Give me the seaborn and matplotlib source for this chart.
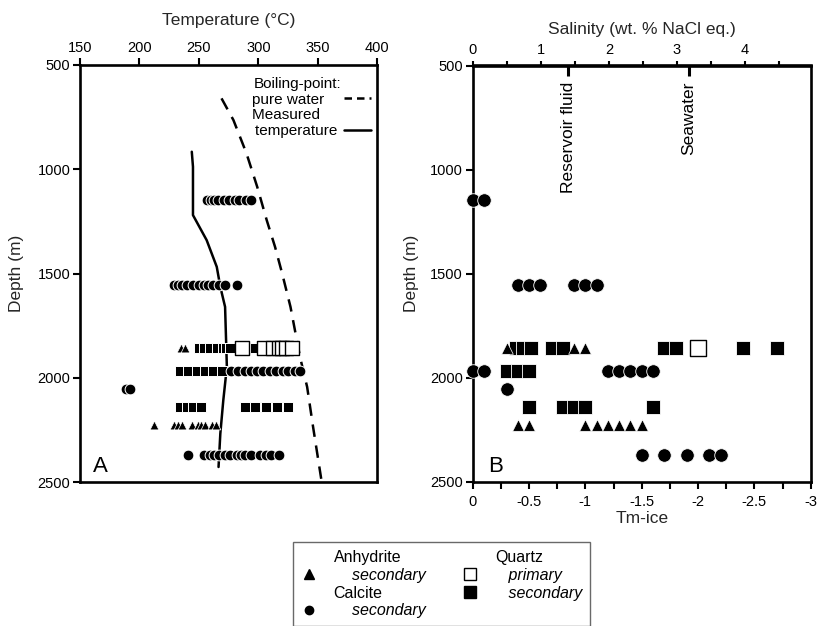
import matplotlib
matplotlib.use("Agg")
import matplotlib.pyplot as plt
import seaborn as sns
from matplotlib.lines import Line2D
from matplotlib.ticker import MultipleLocator

sns.set_theme(style="white")
plt.rcParams['font.family'] = ['Liberation Sans', 'DejaVu Sans']
plt.rcParams['axes.edgecolor'] = 'black'
plt.rcParams['text.color'] = 'black'
plt.rcParams['xtick.color'] = 'black'
plt.rcParams['ytick.color'] = 'black'

# ---------------- Panel A data (temperature, depth) ----------------
bp_T = [269, 279, 290, 299, 307, 314, 320, 327, 335, 341, 346, 353]
bp_depth = [660, 764, 924, 1084, 1244, 1372, 1500, 1660, 1900, 2044, 2236, 2491]

meas_T = [244, 245, 245, 256.5, 265, 268, 272, 273.5, 270.5, 268, 266.5]
meas_depth = [916, 988, 1220, 1340, 1468, 1564, 1660, 1948, 2108, 2268, 2428]

cal_A_T = [257, 260, 263, 266, 271, 275, 280, 284, 290, 294,
           229, 232, 236, 240, 245, 250, 254, 258, 262, 267, 272, 282,
           277, 283, 289, 294, 299, 304, 310, 315, 321, 325, 331, 335,
           189, 192,
           241, 254, 259, 263, 267, 272, 276, 282, 285, 289, 294, 301, 306, 311, 317]
cal_A_depth = ([1148] * 10 + [1556] * 12 + [1970] * 12 + [2055] * 2 + [2372] * 15)

anh_A_T = [235, 238,
           212, 229, 232, 236, 244, 249, 252, 255, 261, 264]
anh_A_depth = [1856] * 2 + [2227] * 10

qsec_A_T = [250, 254, 259, 265, 270, 273, 276, 297,
            234, 241, 248, 255, 262, 269,
            234, 240, 245, 252, 289, 297, 306, 316, 325]
qsec_A_depth = [1856] * 8 + [1970] * 6 + [2140] * 9

qpri_A_T = [286, 305, 312, 317, 320, 323, 328]
qpri_A_depth = [1856] * 7

# ---------------- Panel B data (Tm-ice, depth) ----------------
cal_B_tm = [0.0, -0.1,
            -0.4, -0.5, -0.6, -0.9, -1.0, -1.1,
            0.0, -0.1, -1.2, -1.3, -1.4, -1.5, -1.6,
            -0.3,
            -1.5, -1.7, -1.9, -2.1, -2.2]
cal_B_depth = [1148] * 2 + [1556] * 6 + [1970] * 7 + [2055] + [2372] * 5

anh_B_tm = [-0.3, -0.9, -1.0,
            -0.4, -0.5, -1.0, -1.1, -1.2, -1.3, -1.4, -1.5]
anh_B_depth = [1856] * 3 + [2227] * 8

qsec_B_tm = [-0.38, -0.45, -0.52, -0.7, -0.8, -1.7, -1.8, -2.4, -2.7,
             -0.3, -0.4, -0.5,
             -0.5, -0.8, -0.9, -1.0, -1.6]
qsec_B_depth = [1856] * 9 + [1970] * 3 + [2140] * 5

qpri_B_tm = [-2.0]
qpri_B_depth = [1856]

ref_labels = ["Reservoir fluid", "Seawater"]
ref_salinity = [1.40, 3.18]

temp_ticks = [150, 200, 250, 300, 350, 400]
depth_ticks = [500, 1000, 1500, 2000, 2500]
tm_ticks = [0, -0.5, -1, -1.5, -2, -2.5, -3]
tm_ticklabels = ["0", "-0.5", "-1", "-1.5", "-2", "-2.5", "-3"]
sal_ticks = [0, 1, 2, 3, 4]

SAL_PER_TM = 1.655


def tm_to_sal(tm):
    return -tm * SAL_PER_TM


def sal_to_tm(s):
    return -s / SAL_PER_TM


FS = 10.5     # tick labels
LFS = 12.5    # axis labels / annotations
fig = plt.figure(figsize=(8.17, 6.26), dpi=100)
axA = fig.add_axes([80 / 817, 1 - 482 / 626, (377.3 - 80) / 817, (482 - 65) / 626])
axB = fig.add_axes([472.7 / 817, 1 - 481.5 / 626, (810.7 - 472.7) / 817, (481.5 - 65.5) / 626])

for ax, lp in ((axA, 9.5), (axB, 8)):
    for sp in ax.spines.values():
        sp.set_linewidth(1.9)
        sp.set_color('black')
    ax.set_ylim(2500, 500)
    ax.set_yticks(depth_ticks)
    ax.set_yticklabels([str(d) for d in depth_ticks], fontsize=FS)
    ax.set_ylabel("Depth (m)", fontsize=LFS, labelpad=lp)
    ax.tick_params(axis='y', direction='out', length=5, width=1.5, left=True, pad=2)

# ---------------- Panel A ----------------
sns.lineplot(x=bp_T, y=bp_depth, sort=False, estimator=None, ax=axA, color='black',
             lw=1.8, linestyle=(0, (5, 3.5)))
sns.lineplot(x=meas_T, y=meas_depth, sort=False, estimator=None, ax=axA, color='black', lw=1.8)

sns.scatterplot(x=qsec_A_T, y=qsec_A_depth, marker='s', s=45, color='black',
                edgecolor='white', linewidth=0.7, ax=axA, zorder=3)
sns.scatterplot(x=qpri_A_T, y=qpri_A_depth, marker='s', s=110, facecolor='white',
                edgecolor='black', linewidth=1.0, ax=axA, zorder=3)
sns.scatterplot(x=cal_A_T, y=cal_A_depth, marker='o', s=60, color='black',
                edgecolor='white', linewidth=0.7, ax=axA, zorder=3)
sns.scatterplot(x=anh_A_T, y=anh_A_depth, marker='^', s=40, color='black',
                edgecolor='white', linewidth=0.5, ax=axA, zorder=3)

axA.set_xlim(150, 400)
axA.xaxis.tick_top()
axA.xaxis.set_label_position('top')
axA.set_xticks(temp_ticks)
axA.set_xticklabels([str(t) for t in temp_ticks], fontsize=FS)
axA.tick_params(axis='x', direction='out', length=5, width=1.5, top=True, bottom=False, pad=2)
axA.set_xlabel("Temperature (\u00b0C)", fontsize=LFS, labelpad=12)
axA.text(0.045, 0.012, "A", transform=axA.transAxes, fontsize=16, ha='left', va='bottom')

legA_handles = [Line2D([], [], color='none'),
                Line2D([], [], color='black', lw=1.8, linestyle=(0, (3, 2))),
                Line2D([], [], color='none'),
                Line2D([], [], color='black', lw=1.8)]
legA_labels = ["Boiling-point:", "pure water    ", "Measured     ", "temperature "]
axA.legend(legA_handles, legA_labels, loc='upper right', frameon=False, markerfirst=False,
           fontsize=11, handlelength=1.75, handletextpad=0.15, labelspacing=0.12,
           borderaxespad=0, borderpad=0, bbox_to_anchor=(0.978, 0.972))

# ---------------- Panel B ----------------
sns.scatterplot(x=qsec_B_tm, y=qsec_B_depth, marker='s', s=105, color='black',
                edgecolor='white', linewidth=0.6, ax=axB, zorder=3, clip_on=False)
sns.scatterplot(x=qpri_B_tm, y=qpri_B_depth, marker='s', s=120, facecolor='white',
                edgecolor='black', linewidth=1.0, ax=axB, zorder=3, clip_on=False)
sns.scatterplot(x=cal_B_tm, y=cal_B_depth, marker='o', s=95, color='black',
                edgecolor='white', linewidth=0.6, ax=axB, zorder=3, clip_on=False)
sns.scatterplot(x=anh_B_tm, y=anh_B_depth, marker='^', s=70, color='black',
                edgecolor='white', linewidth=0.5, ax=axB, zorder=3, clip_on=False)

axB.set_xlim(0, -3)
axB.set_xticks(tm_ticks)
axB.set_xticklabels(tm_ticklabels, fontsize=FS)
axB.xaxis.set_minor_locator(MultipleLocator(0.25))
axB.tick_params(axis='x', which='major', direction='out', length=5, width=1.5, bottom=True, pad=5)
axB.tick_params(axis='x', which='minor', direction='out', length=5, width=1.5, bottom=True)
axB.set_xlabel("Tm-ice", fontsize=LFS, labelpad=1)
axB.text(0.045, 0.012, "B", transform=axB.transAxes, fontsize=16, ha='left', va='bottom')

sec = axB.secondary_xaxis('top', functions=(tm_to_sal, sal_to_tm))
sec.set_xticks(sal_ticks)
sec.set_xticklabels([str(s) for s in sal_ticks], fontsize=FS)
sec.xaxis.set_minor_locator(MultipleLocator(0.5))
sec.tick_params(axis='x', which='both', direction='out', length=3, width=1.5, pad=3)
sec.spines['top'].set_linewidth(1.9)
sec.set_xlabel("Salinity (wt. % NaCl eq.)", fontsize=LFS, labelpad=6.5)

for lab, s in zip(ref_labels, ref_salinity):
    xt = sal_to_tm(s)
    axB.plot([xt, xt], [500, 550], color='black', lw=2.2, solid_capstyle='butt')
    axB.text(xt, 578, lab, rotation=90, ha='center', va='top', fontsize=LFS)

# ---------------- Bottom legend ----------------
blank = Line2D([], [], color='none')
leg_handles = [blank,
               Line2D([], [], marker='^', color='black', linestyle='none', markersize=7),
               blank,
               Line2D([], [], marker='o', color='black', linestyle='none', markersize=6),
               blank,
               Line2D([], [], marker='s', markerfacecolor='white', markeredgecolor='black',
                      linestyle='none', markersize=8),
               Line2D([], [], marker='s', color='black', linestyle='none', markersize=8),
               blank]
leg_labels = ["Anhydrite", "    secondary", "Calcite", "    secondary",
              "Quartz", "   primary", "   secondary", ""]
leg = fig.legend(leg_handles, leg_labels, ncol=2, loc='upper left',
                 bbox_to_anchor=(293 / 817, 1 - 542 / 626), frameon=True, fancybox=False,
                 edgecolor='#444444', fontsize=11.5, handlelength=1.0, handletextpad=1.05,
                 labelspacing=0.175, columnspacing=2.3, borderpad=0.5, borderaxespad=0)
leg.get_frame().set_linewidth(1.0)
for i, t in enumerate(leg.get_texts()):
    if leg_labels[i].strip() in ("secondary", "primary"):
        t.set_style('italic')

fig.savefig("out.png", dpi=100)
